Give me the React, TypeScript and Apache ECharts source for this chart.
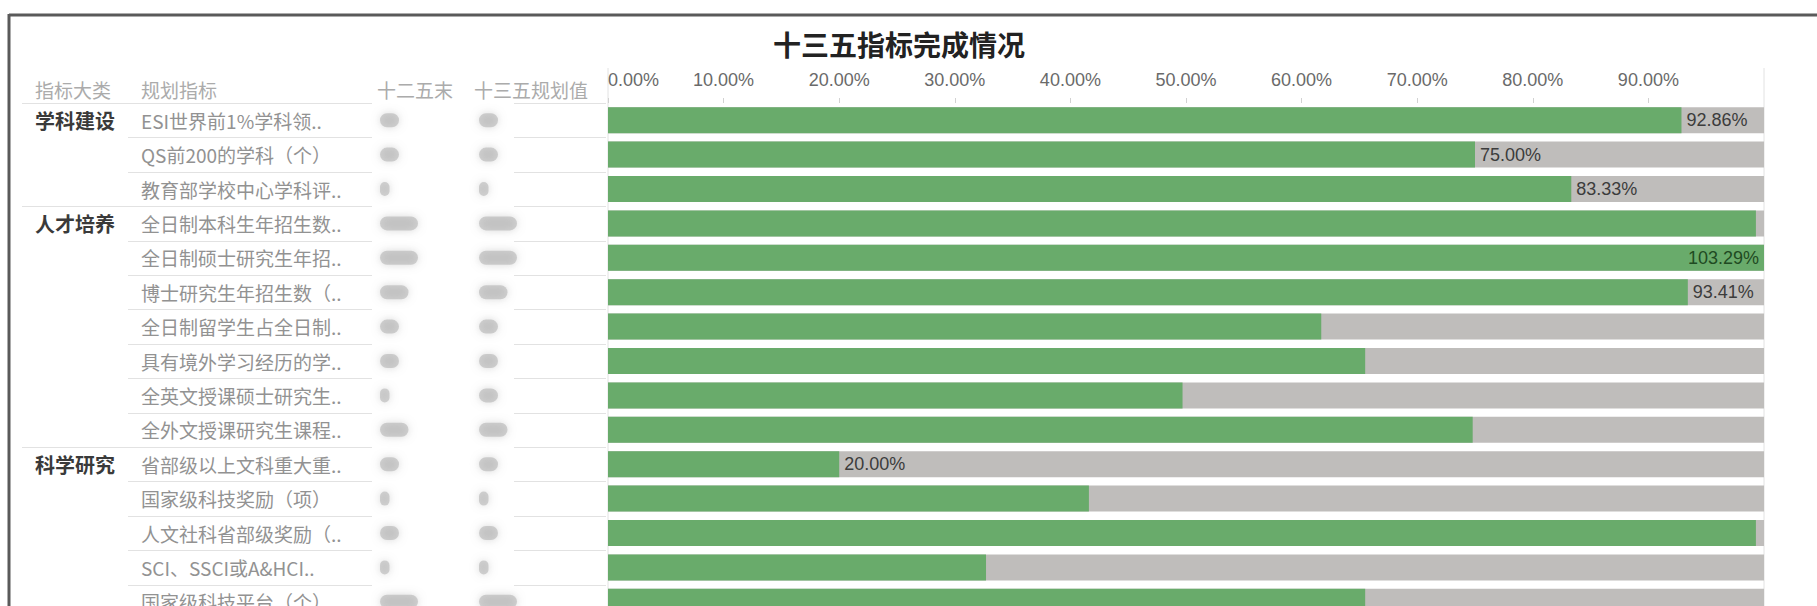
import React, { useEffect, useRef } from "react";
import * as echarts from "echarts";

const chartTitle = "十三五指标完成情况";
const headerLabels = ["指标大类", "规划指标", "十二五末", "十三五规划值"];

const rowNames = [
  "ESI世界前1%学科领..",
  "QS前200的学科（个）",
  "教育部学校中心学科评..",
  "全日制本科生年招生数..",
  "全日制硕士研究生年招..",
  "博士研究生年招生数（..",
  "全日制留学生占全日制..",
  "具有境外学习经历的学..",
  "全英文授课硕士研究生..",
  "全外文授课研究生课程..",
  "省部级以上文科重大重..",
  "国家级科技奖励（项）",
  "人文社科省部级奖励（..",
  "SCI、SSCI或A&HCI..",
  "国家级科技平台（个）..",
];

const groupNames = [
  "学科建设", "", "",
  "人才培养", "", "", "", "", "", "",
  "科学研究", "", "", "", "",
];

// completion rate (share of plan)
const completion = [
  0.9286, 0.75, 0.8333, 0.993, 1.0329, 0.9341, 0.617, 0.655, 0.497, 0.748,
  0.2, 0.416, 0.993, 0.327, 0.655,
];

// plan = 100%
const planShare = [1, 1, 1, 1, 1, 1, 1, 1, 1, 1, 1, 1, 1, 1, 1];

// which bars carry a value label in the picture
const labeled = [
  true, true, true, false, true, true, false, false, false, false,
  true, false, false, false, false,
];

// blurred number cells: estimated digit counts
const prevDigits = [2, 2, 1, 4, 4, 3, 2, 2, 1, 3, 2, 1, 2, 1, 4];
const planDigits = [2, 2, 1, 4, 4, 3, 2, 2, 2, 3, 2, 1, 2, 1, 4];

const CJK = "'Noto Sans CJK SC', 'Noto Sans', sans-serif";
const LAT = "'Liberation Sans', Arial, sans-serif";

const pct = (v: number) => (v * 100).toFixed(2) + "%";

export default function App() {
  const ref = useRef<HTMLDivElement>(null);

  useEffect(() => {
    const chart = echarts.init(ref.current!, null, { renderer: "svg" });

    const option: any = {
      animation: false,
      backgroundColor: "#ffffff",
      grid: { left: 608, top: 103, width: 1156, height: 516, containLabel: false },
      xAxis: {
        type: "value",
        min: 0,
        max: 1,
        interval: 0.1,
        position: "top",
        axisLine: { show: false },
        axisTick: { show: true, length: 5, lineStyle: { color: "#d2d2d2" } },
        splitLine: { show: false },
        axisLabel: {
          show: true,
          margin: 14,
          fontSize: 18,
          color: "#6a6a6a",
          fontFamily: LAT,
          formatter: (v: number) => pct(v),
          showMaxLabel: false,
          alignMinLabel: "left",
        },
      },
      yAxis: [
        {
          type: "category",
          data: rowNames,
          inverse: true,
          position: "left",
          axisLine: { show: false },
          axisTick: { show: false },
          splitLine: { show: false },
          axisLabel: {
            interval: 0,
            align: "left",
            margin: 467,
            fontSize: 19,
            color: "#929292",
            fontFamily: CJK,
          },
        },
        {
          type: "category",
          data: rowNames,
          inverse: true,
          position: "left",
          axisLine: { show: false },
          axisTick: { show: false },
          splitLine: { show: false },
          axisLabel: {
            interval: 0,
            align: "left",
            margin: 573,
            fontSize: 20,
            fontWeight: "bold",
            color: "#3a3a3a",
            fontFamily: CJK,
            formatter: (_v: string, i: number) => groupNames[i],
          },
        },
      ],
      series: [
        {
          type: "bar",
          name: "十三五规划值",
          yAxisIndex: 1,
          data: planShare,
          barWidth: 26,
          silent: true,
          itemStyle: { color: "#bfbdbb" },
        },
        {
          type: "bar",
          name: "完成情况",
          yAxisIndex: 0,
          barWidth: 26,
          itemStyle: { color: "#69ab6b" },
          data: completion.map((v, i) => ({
            value: v,
            label: labeled[i]
              ? {
                  show: true,
                  position: v > 1 ? "insideRight" : "right",
                  distance: 5,
                  formatter: () => pct(v),
                  fontSize: 18,
                  fontFamily: LAT,
                  color: v > 1 ? "#1f4a22" : "#3c3c3c",
                }
              : { show: false },
          })),
        },
      ],
    };

    chart.setOption(option);

    const centers = rowNames.map(
      (n) => chart.convertToPixel({ yAxisIndex: 0 }, n) as unknown as number
    );
    const band = centers[1] - centers[0];
    const x0 = chart.convertToPixel({ xAxisIndex: 0 }, 0) as unknown as number;
    const x1 = chart.convertToPixel({ xAxisIndex: 0 }, 1) as unknown as number;

    const g: any[] = [];
    // frame
    g.push({
      type: "line",
      z: 10,
      shape: { x1: 9, y1: 15, x2: 1817, y2: 15 },
      style: { stroke: "#5a5a5a", lineWidth: 3 },
    });
    g.push({
      type: "line",
      z: 10,
      shape: { x1: 9, y1: 14, x2: 9, y2: 640 },
      style: { stroke: "#5a5a5a", lineWidth: 3 },
    });
    // title
    g.push({
      type: "text",
      x: 899,
      y: 44,
      style: {
        text: chartTitle,
        fill: "#222",
        fontSize: 28,
        fontWeight: "bold",
        fontFamily: CJK,
        align: "center",
        textAlign: "center",
        verticalAlign: "middle",
        textVerticalAlign: "middle",
      },
    });
    // headers
    const hx = [35, 141, 377, 474];
    headerLabels.forEach((t, i) => {
      g.push({
        type: "text",
        x: hx[i],
        y: 89,
        style: {
          text: t,
          fill: "#ababab",
          fontSize: 19,
          fontFamily: CJK,
          align: "left",
          textAlign: "left",
          verticalAlign: "middle",
          textVerticalAlign: "middle",
        },
      });
    });
    // axis edge lines
    [x0, x1].forEach((x) => {
      g.push({
        type: "line",
        z: 0,
        shape: { x1: x, y1: 68, x2: x, y2: 640 },
        style: { stroke: "#e2e2e2", lineWidth: 1 },
      });
    });
    // row separators in the table part
    centers.forEach((c, i) => {
      const y = Math.round(c - band / 2) + 0.5;
      const xs = groupNames[i] ? 22 : 128;
      g.push({
        type: "line",
        z: 0,
        shape: { x1: xs, y1: y, x2: 372, y2: y },
        style: { stroke: "#e2e2e2", lineWidth: 1 },
      });
      g.push({
        type: "line",
        z: 0,
        shape: { x1: 514, y1: y, x2: x0 - 2, y2: y },
        style: { stroke: "#e2e2e2", lineWidth: 1 },
      });
    });
    // blurred number cells
    const blob = (x: number, c: number, d: number) => ({
      type: "rect",
      z: 1,
      shape: { x, y: c - 7, width: d * 9.5, height: 14, r: 7 },
      style: {
        fill: "rgba(170,170,170,0.5)",
        shadowBlur: 9,
        shadowColor: "rgba(170,170,170,0.9)",
      },
    });
    centers.forEach((c, i) => {
      g.push(blob(380, c, prevDigits[i]));
      g.push(blob(479, c, planDigits[i]));
    });

    chart.setOption({ graphic: g });

    return () => chart.dispose();
  }, []);

  return (
    <div
      ref={ref}
      style={{
        position: "fixed",
        left: 0,
        top: 0,
        width: 1817,
        height: 640,
        background: "#fff",
      }}
    />
  );
}
